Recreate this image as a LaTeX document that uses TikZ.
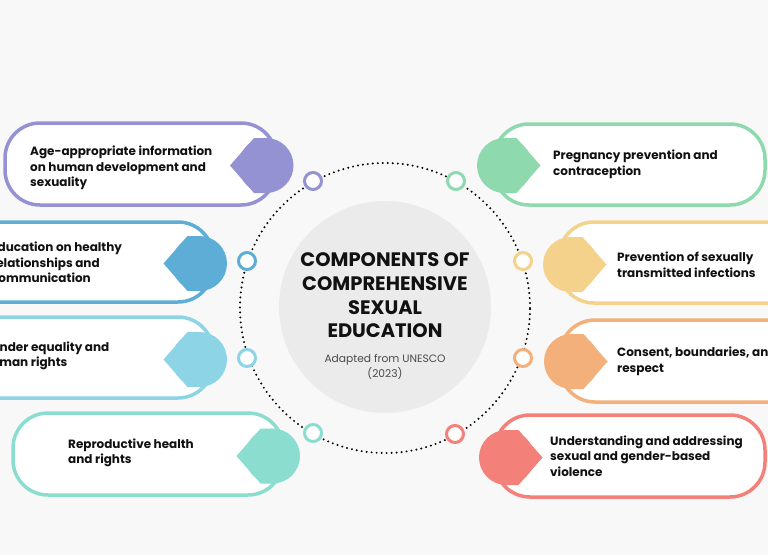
\documentclass[tikz,border=0pt]{standalone}
\usepackage{fontspec}
\setmainfont{Poppins}
\definecolor{bg}{HTML}{F8F8F8}
\definecolor{hubgray}{HTML}{EBEBEB}
\definecolor{purp}{HTML}{9592D3}
\definecolor{grn}{HTML}{8FD9AE}
\definecolor{blu}{HTML}{5EADD7}
\definecolor{lblu}{HTML}{8CD4E6}
\definecolor{teal}{HTML}{8BDDD0}
\definecolor{yel}{HTML}{F5D28C}
\definecolor{orng}{HTML}{F3B07B}
\definecolor{redd}{HTML}{F38179}
\definecolor{ink}{HTML}{111111}
\definecolor{sub}{HTML}{4A4A4A}
\tikzset{
  pill/.style={draw=#1, fill=white, line width=3.5pt, rounded corners=35pt, rectangle, inner sep=0pt},
  dotc/.style={draw=#1, fill=white, line width=3pt, circle, minimum size=17pt, inner sep=0pt},
  txt/.style={anchor=west, align=left, text=ink, inner sep=0pt, font=\fontsize{12}{15.5}\selectfont\bfseries},
  tagL/.pic={\fill (0,0) circle (27.5); \fill (-36,0) -- (-12,-27.5) -- (0,-27.5) -- (0,27.5) -- (-12,27.5) -- cycle;},
  tagR/.pic={\fill (0,0) circle (27.5); \fill (36,0) -- (12,-27.5) -- (0,-27.5) -- (0,27.5) -- (12,27.5) -- cycle;}
}
\begin{document}
\begin{tikzpicture}[x=1pt,y=-1pt]
\useasboundingbox (0,0) rectangle (768,555);
\fill[bg] (0,0) rectangle (768,555);
% hub
\node[circle, fill=hubgray, minimum size=212pt, inner sep=0pt] (hub) at (385,307) {};
\node[circle, draw=black, minimum size=290pt, inner sep=0pt, line width=2.2pt, line cap=round, dash pattern=on 0pt off 5pt] (ring) at (385,308) {};
\node[align=center, text=ink, inner sep=0pt, font=\fontsize{19.5}{23.7}\selectfont\bfseries] (title) at (385,295.5) {COMPONENTS OF\\COMPREHENSIVE\\SEXUAL\\EDUCATION};
\node[align=center, text=sub, inner sep=0pt, font=\fontsize{10.7}{14.5}\selectfont] (src) at (385,367) {Adapted from UNESCO\\(2023)};
% pills left
\node[pill=purp, minimum width=271pt, minimum height=82pt] (p1) at (140.5,164) {};
\node[pill=blu, minimum width=253pt, minimum height=80pt] (p2) at (86.5,262) {};
\node[pill=lblu, minimum width=253pt, minimum height=81pt] (p3) at (86.5,357.5) {};
\node[pill=teal, minimum width=270pt, minimum height=82pt] (p4) at (148,454) {};
% pills right
\node[pill=grn, minimum width=271pt, minimum height=81pt] (q1) at (629.5,164.5) {};
\node[pill=yel, minimum width=251pt, minimum height=81pt] (q2) at (684.5,262.5) {};
\node[pill=orng, minimum width=250pt, minimum height=82pt] (q3) at (685,361) {};
\node[pill=redd, minimum width=270pt, minimum height=82pt] (q4) at (630,456) {};
% tags
\pic[fill=purp] at (266,165.5) {tagL};
\pic[fill=blu] at (199.5,263.5) {tagL};
\pic[fill=lblu] at (199.5,359.5) {tagL};
\pic[fill=teal] at (272.5,456) {tagL};
\pic[fill=grn] at (504.5,165.5) {tagR};
\pic[fill=yel] at (570.5,264.5) {tagR};
\pic[fill=orng] at (571.5,361.5) {tagR};
\pic[fill=redd] at (506.5,457.5) {tagR};
% ring markers
\node[dotc=purp] (c1) at (313,181) {};
\node[dotc=blu] (c2) at (247,261) {};
\node[dotc=lblu] (c3) at (247,358) {};
\node[dotc=teal] (c4) at (313,433) {};
\node[dotc=grn] (c5) at (456,181) {};
\node[dotc=yel] (c6) at (523,261) {};
\node[dotc=orng] (c7) at (523,358) {};
\node[dotc=redd] (c8) at (455,434) {};
% texts
\node[txt] (t1) at (30,168) {Age-appropriate information\\on human development and\\sexuality};
\node[txt] (t2) at (-9,262.5) {Education on healthy\\relationships and\\communication};
\node[txt] (t3) at (-17,356) {Gender equality and\\human rights};
\node[txt] (t4) at (68,453) {Reproductive health\\and rights};
\node[txt] (t5) at (553,164.5) {Pregnancy prevention and\\contraception};
\node[txt] (t6) at (617,264.5) {Prevention of sexually\\transmitted infections};
\node[txt] (t7) at (617,361.5) {Consent, boundaries, and\\respect};
\node[txt] (t8) at (550,456) {Understanding and addressing\\sexual and gender-based\\violence};
\end{tikzpicture}
\end{document}
